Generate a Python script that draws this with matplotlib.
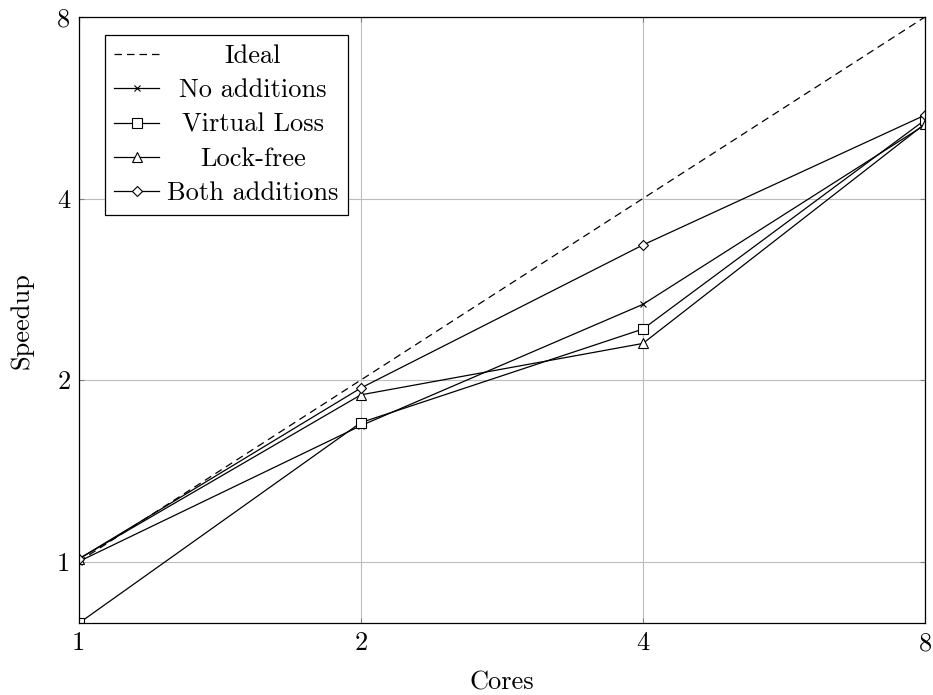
import matplotlib.pyplot as plt
from matplotlib.ticker import FixedLocator, FixedFormatter, NullLocator

cores = [1, 2, 4, 8]
ideal = [1, 2, 4, 8]
no_additions = [1.0, 1.68, 2.67, 5.30]
virtual_loss = [0.79, 1.70, 2.43, 5.40]
lock_free = [1.01, 1.89, 2.30, 5.32]
both_additions = [1.01, 1.94, 3.35, 5.50]
tick_labels = ['1', '2', '4', '8']

plt.rcParams['font.family'] = 'serif'
plt.rcParams['font.serif'] = ['cmr10']
plt.rcParams['axes.formatter.use_mathtext'] = True

fig = plt.figure(figsize=(9.33, 6.95), dpi=100)
ax = fig.add_axes([0.0844, 0.1032, 0.9070, 0.8723])

lw = 0.9
ax.plot(cores, ideal, color='black', linestyle=(0, (6, 4)), linewidth=lw, label='Ideal')
ax.plot(cores, no_additions, color='black', linewidth=lw, marker='x', markersize=5,
        markeredgewidth=0.8, label='No additions')
ax.plot(cores, virtual_loss, color='black', linewidth=lw, marker='s', markersize=7.5,
        markerfacecolor='white', markeredgewidth=0.8, label='Virtual Loss')
ax.plot(cores, lock_free, color='black', linewidth=lw, marker='^', markersize=6.5,
        markerfacecolor='white', markeredgewidth=0.8, label='Lock-free')
ax.plot(cores, both_additions, color='black', linewidth=lw, marker='D', markersize=4.6,
        markerfacecolor='white', markeredgewidth=0.8, label='Both additions')

ax.set_xscale('log', base=2)
ax.set_yscale('log', base=2)
ax.set_xlim(1, 8)
ax.set_ylim(min(virtual_loss), 8)

ax.xaxis.set_major_locator(FixedLocator(cores))
ax.xaxis.set_major_formatter(FixedFormatter(tick_labels))
ax.yaxis.set_major_locator(FixedLocator(ideal))
ax.yaxis.set_major_formatter(FixedFormatter(tick_labels))
ax.xaxis.set_minor_locator(NullLocator())
ax.yaxis.set_minor_locator(NullLocator())
ax.tick_params(direction='in', length=3.5, width=0.8, color='#808080',
               labelsize=19, pad=6, top=True, right=True)

ax.grid(True, color='#bdbdbd', linewidth=0.8)
ax.set_axisbelow(True)
for s in ax.spines.values():
    s.set_linewidth(0.9)

ax.set_xlabel('Cores', fontsize=19, labelpad=11)
ax.set_ylabel('Speedup', fontsize=19, labelpad=17)

leg = ax.legend(loc='upper left', bbox_to_anchor=(0.031, 0.97), fontsize=19,
                frameon=True, fancybox=False, edgecolor='black', framealpha=1,
                handlelength=1.7, handletextpad=0.3, borderpad=0.35,
                labelspacing=0.4, borderaxespad=0)
leg.get_frame().set_linewidth(0.9)

# centre the legend texts like pgfplots does
renderer = fig.canvas.get_renderer()
widths = [t.get_window_extent(renderer).width for t in leg.get_texts()]
shift = max(widths)
for t, w in zip(leg.get_texts(), widths):
    t.set_position(((shift - w) / 2, 0))

fig.savefig('out.png', dpi=100)
